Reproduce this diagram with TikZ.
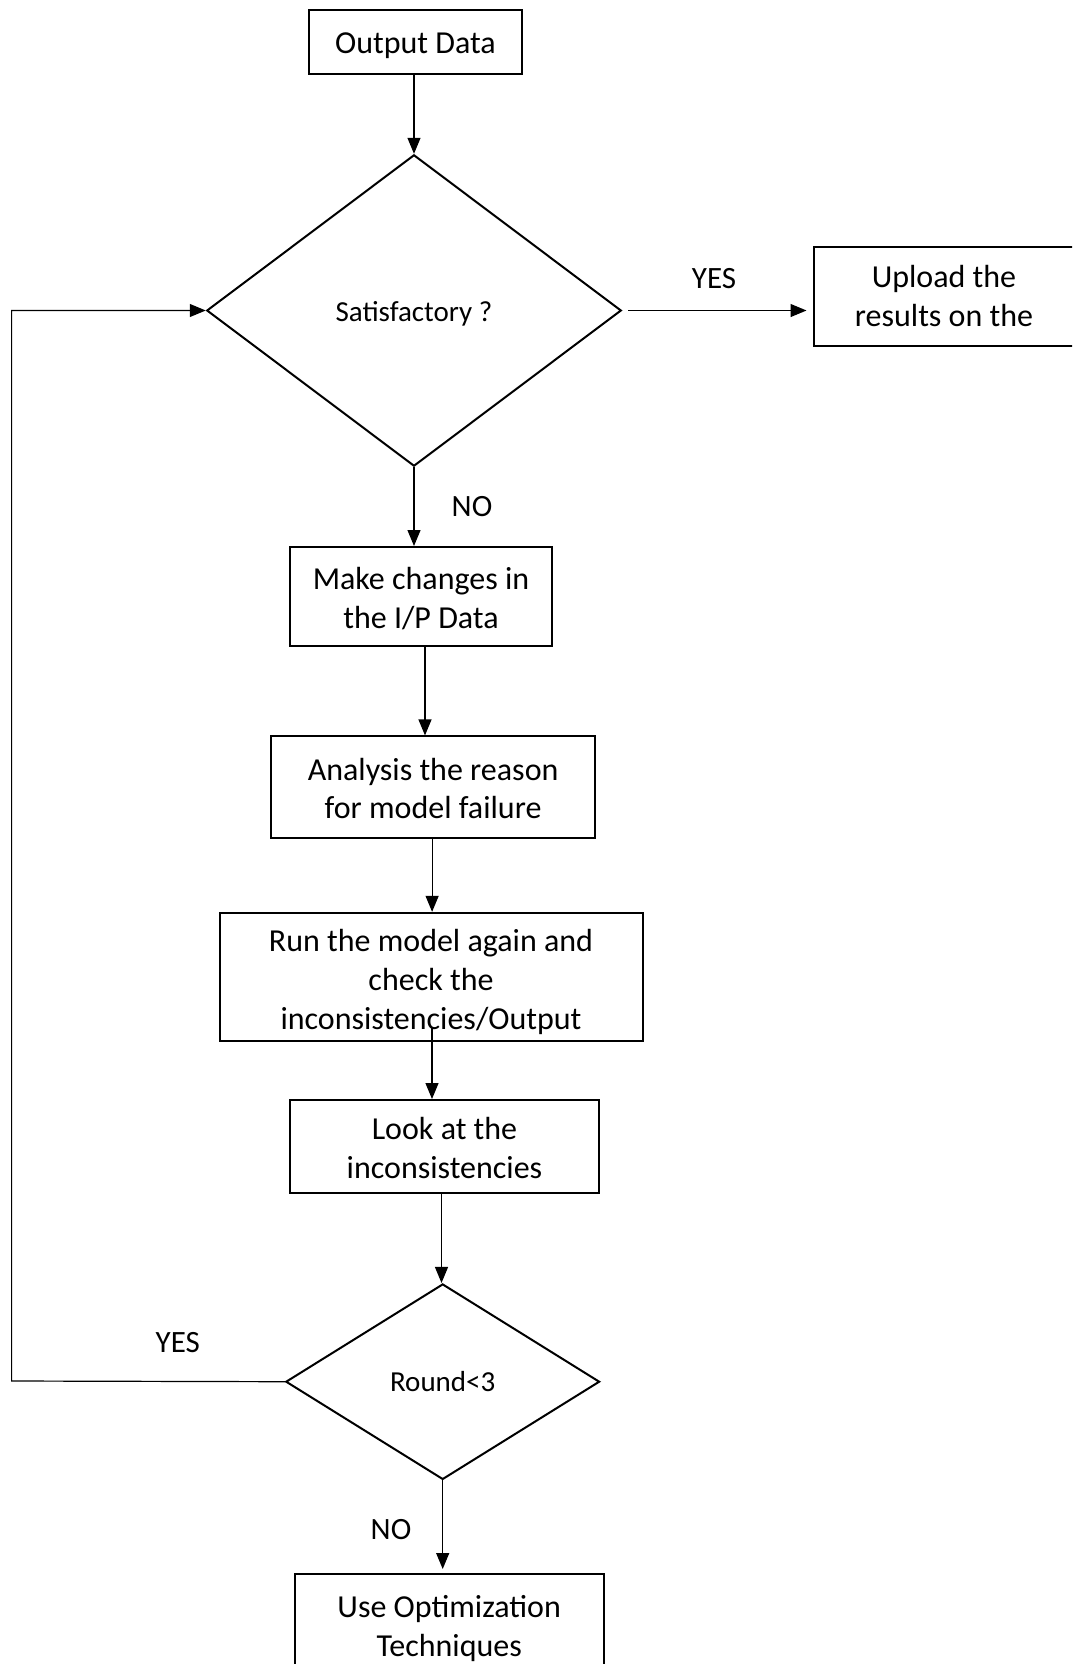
\documentclass[tikz,border=0pt]{standalone}
\usepackage{fontspec}
\setmainfont{Carlito}
\usetikzlibrary{shapes.geometric,arrows.meta,calc}

% centred lines of text, set a little lower than the box centre
\newcommand{\lowtext}[2]{\raisebox{-#1}[\height][\depth]{\begin{tabular}{@{}c@{}}#2\end{tabular}}}

\begin{document}
\begin{tikzpicture}[x=1pt,y=-1pt,
  box/.style={draw,line width=2pt,inner sep=0pt,
    font=\fontsize{32}{38.8}\selectfont},
  decision/.style={draw,diamond,line width=2pt,inner sep=0pt,
    font=\fontsize{29}{35}\selectfont},
  lbl/.style={inner sep=0pt,font=\fontsize{31}{37}\selectfont},
  arr/.style={line width=1.2pt,-{Triangle[length=16pt,width=13pt]}},
]
\useasboundingbox (0,0) rectangle (1072,1664);
\fill[white] (0,0) rectangle (1072,1664);
\begin{scope}
\clip (0,0) rectangle (1072,1664);

% process boxes and decisions
\node[box,minimum width=213pt,minimum height=64pt] (out) at (415.5,42) {\lowtext{4pt}{Output Data}};
\node[decision,minimum width=414.5pt,minimum height=311.4pt] (d1) at (414,310.5) {\lowtext{4pt}{Satisfactory ?}};
\node[box,minimum width=261pt,minimum height=99pt] (up) at (944,296.5) {\lowtext{3pt}{Upload the\\results on the}};
\node[box,minimum width=262pt,minimum height=99.4pt] (make) at (421,596.7) {\lowtext{4.5pt}{Make changes in\\the I/P Data}};
\node[box,minimum width=323.4pt,minimum height=101.8pt] (ana) at (433.1,787.3) {\lowtext{4.5pt}{Analysis the reason\\for model failure}};
\node[box,minimum width=423pt,minimum height=128.5pt] (run) at (431,977.1) {\lowtext{5.5pt}{Run the model again and\\check the\\inconsistencies/Output}};
\node[box,minimum width=309pt,minimum height=92.8pt] (look) at (444.5,1146.4) {\lowtext{4.5pt}{Look at the\\inconsistencies}};
\node[decision,minimum width=313.8pt,minimum height=195.5pt] (d2) at (442.7,1381.7) {\lowtext{3pt}{Round<3}};
\node[box,minimum width=309pt,minimum height=104pt] (use) at (449.2,1626) {\lowtext{3pt}{Use Optimization\\Techniques}};

% branch labels
\node[lbl] (yes1) at (714,278.6) {YES};
\node[lbl] (no1) at (472,507) {NO};
\node[lbl] (yes2) at (177.8,1342.8) {YES};
\node[lbl] (no2) at (391,1530) {NO};

% connectors
\draw[arr] (d1.north |- out.south) -- (d1.north);
\draw[arr,shorten <=6pt,shorten >=6pt] (d1.east) -- (d1.east -| up.west);
\draw[arr] (d1.south) -- (d1.south |- make.north);
\coordinate (m1) at ([xshift=4pt]make.south);
\draw[arr] (m1) -- (m1 |- ana.north);
\coordinate (a1) at ([xshift=-1pt]ana.south);
\draw[arr] (a1) -- (a1 |- run.north);
\coordinate (r1) at ([xshift=1pt,yshift=14pt]run.south);
\draw[arr] (r1) -- (r1 |- look.north);
\coordinate (l1) at ([xshift=-3pt]look.south);
\draw[arr] (l1) -- (l1 |- d2.north);
\draw[arr,shorten >=4pt] (d2.south) -- (d2.south |- use.north);

% loop back for another round
\coordinate (lb) at (11.6,1381);
\coordinate (lt) at (11.6,310.5);
\draw[arr] (d2.west) -- (lb) -- (lt) -- (d1.west);
\end{scope}
\end{tikzpicture}
\end{document}
